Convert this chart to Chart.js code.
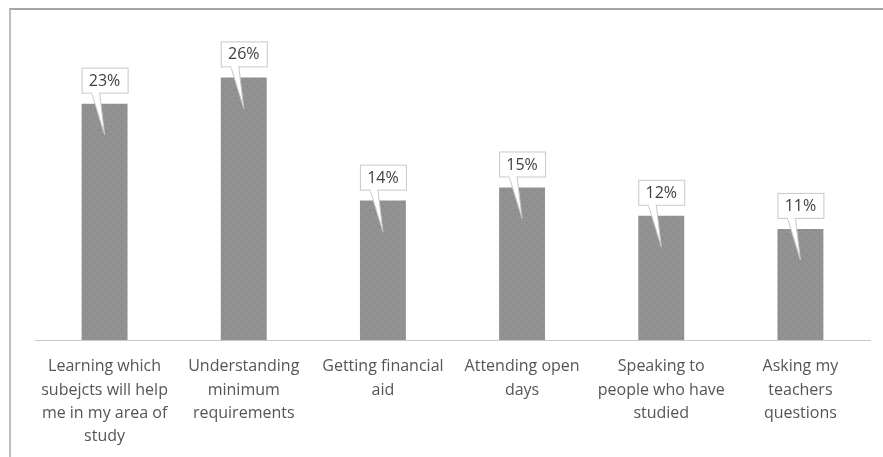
<!DOCTYPE html>
<html>
<head>
<meta charset="utf-8">
<script src="https://cdn.jsdelivr.net/npm/chart.js@4/dist/chart.umd.min.js"></script>
<style>
  html, body { margin: 0; padding: 0; background: #fff; }
  #wrap { position: relative; width: 883px; height: 457px; overflow: hidden; }
  #frame { position: absolute; left: 9px; top: 8px; width: 900px; height: 500px;
           border-top: 2px solid #a6a6a6; border-left: 2px solid #bdbdbd; box-sizing: border-box; }
  #chart { position: absolute; left: 0; top: 0; }
</style>
</head>
<body>
<div id="wrap">
  <div id="frame"></div>
  <canvas id="chart" width="883" height="457"></canvas>
</div>
<script>
const categories = [
  ['Learning which', 'subejcts will help', 'me in my area of', 'study'],
  ['Understanding', 'minimum', 'requirements'],
  ['Getting financial', 'aid'],
  ['Attending open', 'days'],
  ['Speaking to', 'people who have', 'studied'],
  ['Asking my', 'teachers', 'questions']
];
const shares = [23.4, 26.0, 13.8, 15.1, 12.3, 11.0];
const shareLabels = ['23%', '26%', '14%', '15%', '12%', '11%'];

function dotPattern() {
  const c = document.createElement('canvas');
  c.width = 8; c.height = 8;
  const g = c.getContext('2d');
  g.fillStyle = '#929292';
  g.fillRect(0, 0, 8, 8);
  g.fillStyle = '#808080';
  g.fillRect(2, 2, 1, 1);
  g.fillRect(6, 6, 1, 1);
  g.fillStyle = '#888888';
  g.fillRect(3, 2, 1, 1);
  g.fillRect(7, 6, 1, 1);
  return g.createPattern(c, 'repeat');
}

const callouts = {
  id: 'callouts',
  afterDatasetsDraw(chart) {
    const ctx = chart.ctx;
    const meta = chart.getDatasetMeta(0);
    ctx.save();
    ctx.font = '16px "Open Sans", sans-serif';
    ctx.textAlign = 'center';
    ctx.textBaseline = 'middle';
    meta.data.forEach((bar, i) => {
      const w = 46, h = 25;
      const left = bar.x - 23, bottom = bar.y - 11, top = bottom - h;
      // pointer
      ctx.beginPath();
      ctx.moveTo(bar.x - 13, bottom);
      ctx.lineTo(bar.x, bar.y + 31);
      ctx.lineTo(bar.x - 5, bottom);
      ctx.closePath();
      ctx.fillStyle = '#ffffff';
      ctx.fill();
      ctx.strokeStyle = '#c8c8c8';
      ctx.lineWidth = 1;
      ctx.stroke();
      // box
      ctx.fillStyle = '#ffffff';
      ctx.fillRect(left, top, w, h);
      ctx.strokeRect(left + 0.5, top + 0.5, w, h);
      // cover the join between pointer and box
      ctx.fillRect(bar.x - 12.5, bottom - 1, 7, 3);
      ctx.fillStyle = '#404040';
      ctx.fillText(shareLabels[i], bar.x, top + h / 2 + 1);
    });
    ctx.restore();
  }
};

new Chart(document.getElementById('chart'), {
  type: 'bar',
  data: {
    labels: categories,
    datasets: [{
      data: shares,
      backgroundColor: dotPattern(),
      borderWidth: 0,
      barPercentage: 0.33,
      categoryPercentage: 1
    }]
  },
  options: {
    responsive: false,
    animation: false,
    layout: { padding: { top: 37, left: 35, right: 13, bottom: 0 } },
    plugins: { legend: { display: false }, tooltip: { enabled: false } },
    scales: {
      x: {
        grid: { display: false, drawTicks: false },
        border: { display: true, color: '#c8c8c8', width: 1, dash: [2, 1] },
        ticks: {
          color: '#555555',
          padding: 15,
          maxRotation: 0,
          autoSkip: false,
          font: { family: '"Open Sans", sans-serif', size: 16, lineHeight: 1.46 }
        },
        afterFit: (scale) => { scale.height = 117; }
      },
      y: {
        display: false,
        min: 0,
        max: 30
      }
    }
  },
  plugins: [callouts]
});
</script>
</body>
</html>
